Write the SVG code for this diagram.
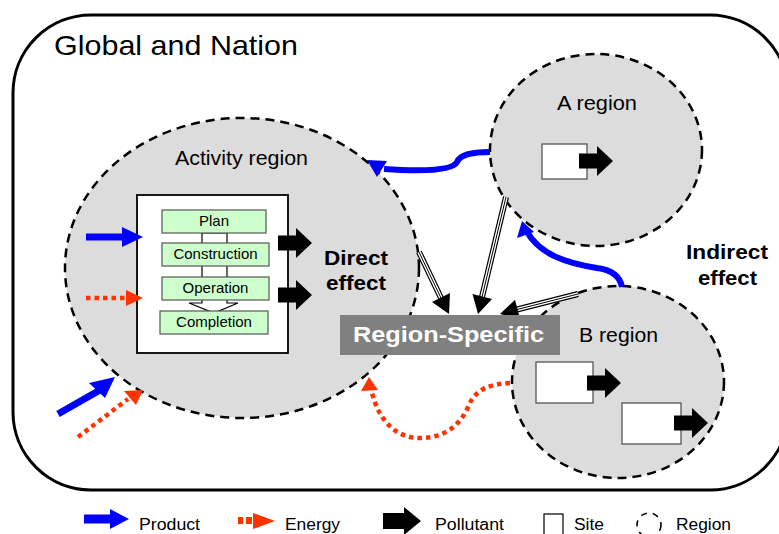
<svg xmlns="http://www.w3.org/2000/svg" width="779" height="534" viewBox="0 0 779 534">
<defs>
<style>
text{font-family:"Liberation Sans",Arial,sans-serif;fill:#000}
.region{fill:#dcdcdc;stroke:#000;stroke-width:2.5;stroke-dasharray:9 6}
.stage{fill:#ccffcc;stroke:#555;stroke-width:1.2}
.stxt{font-size:15px;text-anchor:middle}
.site{fill:#fff;stroke:#555;stroke-width:1.3}
.pol{fill:#000}
.blue{fill:none;stroke:#0000ff;stroke-width:6}
.bluef{fill:#0000ff}
.red{fill:none;stroke:#ff3300;stroke-width:4.5;stroke-dasharray:4.5 4}
.redf{fill:#ff3300}
.dl1{fill:none;stroke:#000;stroke-width:6}
.dl2{fill:none;stroke:#fff;stroke-width:3.6}
.dl3{fill:none;stroke:#000;stroke-width:1}
.big{font-size:20px}
.bold{font-size:20px;font-weight:bold}
.leg{font-size:16px}
</style>
<path id="pol" d="M0,-7.5 H18 V-15 L34,0 L18,15 V7.5 H0 Z"/>
</defs>

<g id="global">
<rect x="13" y="15" width="775" height="475" rx="78" ry="78" fill="#fff" stroke="#000" stroke-width="3"/>
<text x="54" y="55" font-size="28" textLength="244" lengthAdjust="spacingAndGlyphs">Global and Nation</text>
</g>

<g id="activity-region">
<ellipse class="region" cx="242" cy="268" rx="177" ry="150"/>
<text x="175" y="165" class="big" textLength="133" lengthAdjust="spacingAndGlyphs">Activity region</text>
<rect x="137" y="195" width="151" height="158" fill="#fff" stroke="#000" stroke-width="1.8"/>
<polygon points="202,233 227,233 227,303 238,303 214,313 189,303 202,303" fill="#fff" stroke="#000" stroke-width="1.2"/>
<g id="plan"><rect class="stage" x="162" y="210" width="104" height="23"/><text class="stxt" x="214" y="226">Plan</text></g>
<g id="construction"><rect class="stage" x="162" y="243" width="107" height="23"/><text class="stxt" x="215.5" y="259">Construction</text></g>
<g id="operation"><rect class="stage" x="162" y="277" width="107" height="23"/><text class="stxt" x="215.5" y="293">Operation</text></g>
<g id="completion"><rect class="stage" x="160" y="311" width="108" height="23"/><text class="stxt" x="214" y="327">Completion</text></g>
<use href="#pol" class="pol" transform="translate(278,243)"/>
<use href="#pol" class="pol" transform="translate(278,295)"/>
</g>

<g id="a-region">
<ellipse class="region" cx="596" cy="150" rx="106" ry="96"/>
<text x="557" y="110" class="big" textLength="80" lengthAdjust="spacingAndGlyphs">A region</text>
<rect class="site" x="542" y="144" width="45" height="35"/>
<use href="#pol" class="pol" transform="translate(579,161)"/>
</g>

<g id="b-region">
<ellipse class="region" cx="618" cy="382" rx="106" ry="96"/>
<text x="579" y="342" class="big" textLength="79" lengthAdjust="spacingAndGlyphs">B region</text>
<rect class="site" x="536" y="362" width="57" height="41"/>
<use href="#pol" class="pol" transform="translate(587,383)"/>
<rect class="site" x="622" y="403" width="59" height="41"/>
<use href="#pol" class="pol" transform="translate(674,423)"/>
</g>

<g id="connectors">
<path class="blue" d="M490,152 C470,152 460,155 457,162 C453,170 425,172 384,169"/>
<polygon class="bluef" points="367,160 387,161 377,177"/>
<path class="blue" d="M622,287 C620,276 612,270 597,268 C565,263 540,254 527,232"/>
<polygon class="bluef" points="522,221 517,238 534,232"/>
<rect class="bluef" x="86" y="233.5" width="37" height="7"/>
<polygon class="bluef" points="122,227 143,237 122,247"/>
<line class="red" x1="86" y1="298" x2="127" y2="298"/>
<polygon class="redf" points="126,290 143,298 126,306"/>
<line x1="58" y1="414" x2="100" y2="390" stroke="#0000ff" stroke-width="7"/>
<polygon class="bluef" points="115,377 89,383 105,398"/>
<line class="red" x1="78" y1="437" x2="128" y2="399"/>
<polygon class="redf" points="143,390 124,391 136,405"/>
<path class="red" d="M510,383 C490,384 476,389 469,405 C461,424 446,438 420,438 C395,438 379,420 372,393"/>
<polygon class="redf" points="369,377 361,391 378,390"/>
<g id="dline1">
<path class="dl1" d="M419,252 L441,298"/><path class="dl2" d="M419,252 L441,298"/><path class="dl3" d="M419,252 L441,298"/>
<polygon class="pol" points="449,314 432,302 450,293"/>
</g>
<g id="dline2">
<path class="dl1" d="M506,197 L482,297"/><path class="dl2" d="M506,197 L482,297"/><path class="dl3" d="M506,197 L482,297"/>
<polygon class="pol" points="478,314 472.5,294 492,299"/>
</g>
<g id="dline3">
<path class="dl1" d="M578,294 L517,309.5"/><path class="dl2" d="M578,294 L517,309.5"/><path class="dl3" d="M578,294 L517,309.5"/>
<polygon class="pol" points="500,314 515,299.8 520,319"/>
</g>
</g>

<g id="region-specific">
<rect x="340" y="315" width="220" height="40" fill="#808080"/>
<text x="353" y="342" font-size="22" font-weight="bold" style="fill:#fff" textLength="191" lengthAdjust="spacingAndGlyphs">Region-Specific</text>
</g>

<g id="labels">
<text x="324" y="265" class="bold" textLength="64" lengthAdjust="spacingAndGlyphs">Direct</text>
<text x="326" y="290" class="bold" textLength="60" lengthAdjust="spacingAndGlyphs">effect</text>
<text x="686" y="259" class="bold" textLength="82" lengthAdjust="spacingAndGlyphs">Indirect</text>
<text x="698" y="285" class="bold" textLength="59" lengthAdjust="spacingAndGlyphs">effect</text>
</g>

<g id="legend">
<rect class="bluef" x="84" y="514.5" width="27" height="9"/>
<polygon class="bluef" points="110,509 129,519 110,529"/>
<text x="139" y="530" class="leg" textLength="61" lengthAdjust="spacingAndGlyphs">Product</text>
<rect class="redf" x="238" y="517" width="5" height="7"/>
<rect class="redf" x="246" y="517" width="6" height="7"/>
<polygon class="redf" points="253,513 275,521 253,529"/>
<text x="285" y="530" class="leg" textLength="55" lengthAdjust="spacingAndGlyphs">Energy</text>
<path class="pol" d="M383,513 H404 V507 L421,521 L404,535 V529 H383 Z"/>
<text x="435" y="530" class="leg" textLength="69" lengthAdjust="spacingAndGlyphs">Pollutant</text>
<rect x="544" y="514" width="19" height="22" fill="#fff" stroke="#000" stroke-width="1.2"/>
<text x="574" y="530" class="leg" textLength="30" lengthAdjust="spacingAndGlyphs">Site</text>
<circle cx="649" cy="525" r="12" fill="none" stroke="#000" stroke-width="1.6" stroke-dasharray="6 6"/>
<text x="676" y="530" class="leg" textLength="55" lengthAdjust="spacingAndGlyphs">Region</text>
</g>
</svg>
